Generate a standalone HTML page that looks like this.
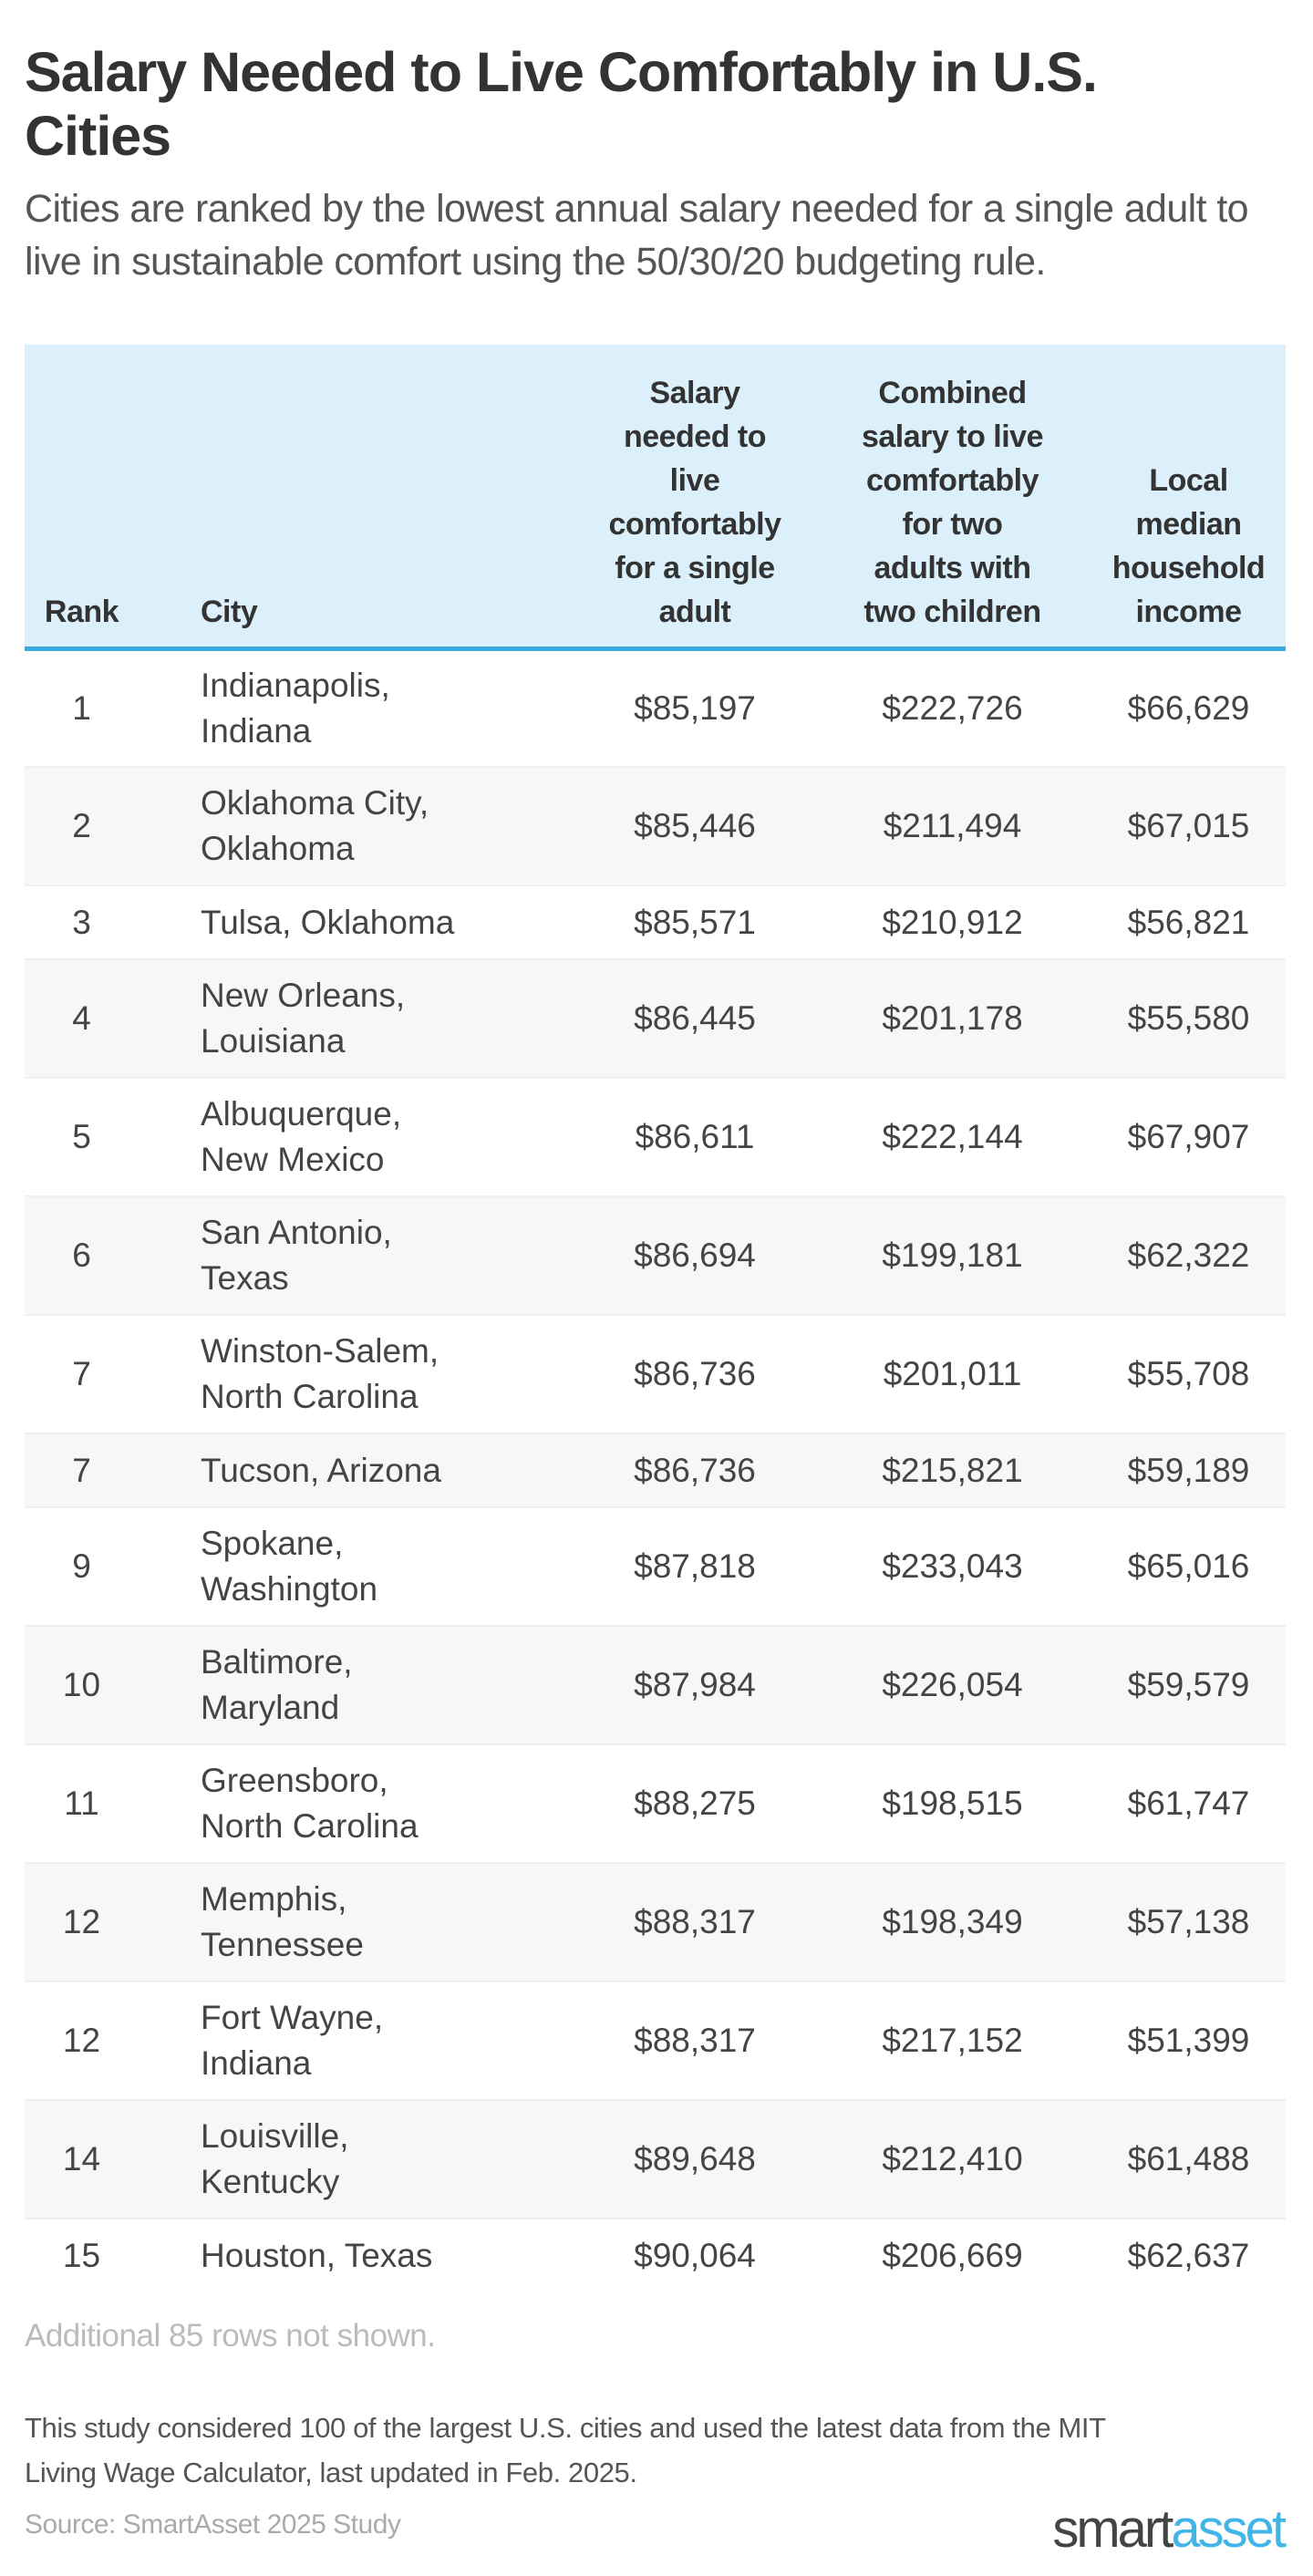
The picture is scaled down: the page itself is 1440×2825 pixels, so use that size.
<!DOCTYPE html>
<html><head><meta charset="utf-8"><style>
*{margin:0;padding:0;box-sizing:border-box}
body{width:1440px;height:2825px;background:#fff;font-family:"Liberation Sans",sans-serif;position:relative;overflow:hidden}
.ttl{position:absolute;left:27px;top:44px;font-size:61px;font-weight:bold;color:#333;line-height:70px;letter-spacing:-1px;white-space:nowrap}
.sub{position:absolute;left:27px;top:200px;font-size:43px;color:#555;line-height:58px;letter-spacing:-0.6px;white-space:nowrap}
table{position:absolute;left:27px;top:378px;width:1383px;border-collapse:collapse;font-size:37px;color:#444}
th{background:#dcf0fb;font-size:34px;line-height:48px;color:#333;vertical-align:bottom;padding:0 0 14px;height:333px;border-bottom:5px solid #3ba9e0;letter-spacing:-0.5px}
td{vertical-align:middle;line-height:50px;border-bottom:2px solid #f0f0f0}
tr.d td{height:130px}
tr.o td{height:81px}
tbody tr:nth-child(even) td{background:#f7f7f7}
.r{text-align:center;width:125px}
.c{text-align:left;padding-left:68px;width:480px}
.n{text-align:center}
.a{position:absolute;left:27px;top:2542px;font-size:35px;color:#bbb;letter-spacing:-0.5px}
.f{position:absolute;left:27px;top:2638px;font-size:31px;color:#555;line-height:49px;letter-spacing:-0.4px;white-space:nowrap}
.src{position:absolute;left:27px;top:2752px;font-size:30px;color:#aaa;letter-spacing:-0.5px}
.logo{position:absolute;right:32px;top:2740px;font-size:58px;letter-spacing:-3px;color:#444}
.logo span{color:#41b6e6}
</style></head><body>
<div class="ttl">Salary Needed to Live Comfortably in U.S.<br>Cities</div>
<div class="sub">Cities are ranked by the lowest annual salary needed for a single adult to<br>live in sustainable comfort using the 50/30/20 budgeting rule.</div>
<table>
<thead><tr><th class="r">Rank</th><th class="c">City</th><th class="n" style="width:260px">Salary<br>needed to<br>live<br>comfortably<br>for a single<br>adult</th><th class="n" style="width:305px">Combined<br>salary to live<br>comfortably<br>for two<br>adults with<br>two children</th><th class="n">Local<br>median<br>household<br>income</th></tr></thead>
<tbody>
<tr class="d"><td class="r">1</td><td class="c">Indianapolis,<br>Indiana</td><td class="n">$85,197</td><td class="n">$222,726</td><td class="n">$66,629</td></tr>
<tr class="d"><td class="r">2</td><td class="c">Oklahoma City,<br>Oklahoma</td><td class="n">$85,446</td><td class="n">$211,494</td><td class="n">$67,015</td></tr>
<tr class="o"><td class="r">3</td><td class="c">Tulsa, Oklahoma</td><td class="n">$85,571</td><td class="n">$210,912</td><td class="n">$56,821</td></tr>
<tr class="d"><td class="r">4</td><td class="c">New Orleans,<br>Louisiana</td><td class="n">$86,445</td><td class="n">$201,178</td><td class="n">$55,580</td></tr>
<tr class="d"><td class="r">5</td><td class="c">Albuquerque,<br>New Mexico</td><td class="n">$86,611</td><td class="n">$222,144</td><td class="n">$67,907</td></tr>
<tr class="d"><td class="r">6</td><td class="c">San Antonio,<br>Texas</td><td class="n">$86,694</td><td class="n">$199,181</td><td class="n">$62,322</td></tr>
<tr class="d"><td class="r">7</td><td class="c">Winston-Salem,<br>North Carolina</td><td class="n">$86,736</td><td class="n">$201,011</td><td class="n">$55,708</td></tr>
<tr class="o"><td class="r">7</td><td class="c">Tucson, Arizona</td><td class="n">$86,736</td><td class="n">$215,821</td><td class="n">$59,189</td></tr>
<tr class="d"><td class="r">9</td><td class="c">Spokane,<br>Washington</td><td class="n">$87,818</td><td class="n">$233,043</td><td class="n">$65,016</td></tr>
<tr class="d"><td class="r">10</td><td class="c">Baltimore,<br>Maryland</td><td class="n">$87,984</td><td class="n">$226,054</td><td class="n">$59,579</td></tr>
<tr class="d"><td class="r">11</td><td class="c">Greensboro,<br>North Carolina</td><td class="n">$88,275</td><td class="n">$198,515</td><td class="n">$61,747</td></tr>
<tr class="d"><td class="r">12</td><td class="c">Memphis,<br>Tennessee</td><td class="n">$88,317</td><td class="n">$198,349</td><td class="n">$57,138</td></tr>
<tr class="d"><td class="r">12</td><td class="c">Fort Wayne,<br>Indiana</td><td class="n">$88,317</td><td class="n">$217,152</td><td class="n">$51,399</td></tr>
<tr class="d"><td class="r">14</td><td class="c">Louisville,<br>Kentucky</td><td class="n">$89,648</td><td class="n">$212,410</td><td class="n">$61,488</td></tr>
<tr class="o"><td class="r" style="border:0">15</td><td class="c" style="border:0">Houston, Texas</td><td class="n" style="border:0">$90,064</td><td class="n" style="border:0">$206,669</td><td class="n" style="border:0">$62,637</td></tr>
</tbody></table>
<div class="a">Additional 85 rows not shown.</div>
<div class="f">This study considered 100 of the largest U.S. cities and used the latest data from the MIT<br>Living Wage Calculator, last updated in Feb. 2025.</div>
<div class="src">Source: SmartAsset 2025 Study</div>
<div class="logo">smart<span>asset</span></div>
</body></html>
